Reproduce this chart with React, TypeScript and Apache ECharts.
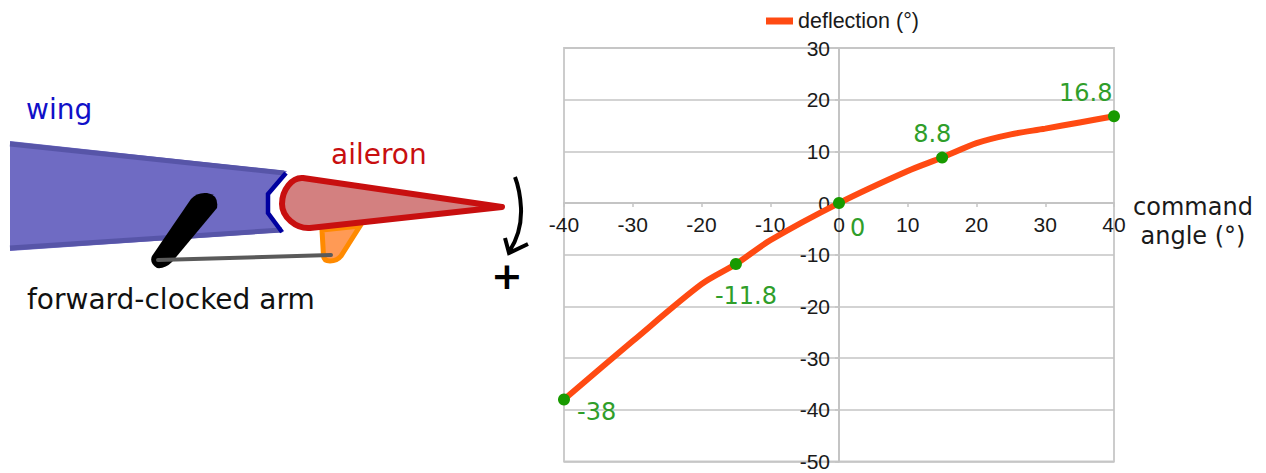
import React, { useEffect, useRef } from "react";
import * as echarts from "echarts";

const commandAngle = [-40, -15, 0, 15, 40];
const deflection = [-38, -11.8, 0, 8.8, 16.8];
const curveAngle = [-40, -30, -20, -15, -10, 0, 10, 15, 20, 25, 30, 35, 40];
const curveDeflection = [-38, -26.7, -15.7, -11.8, -7.2, 0, 6.2, 8.8, 11.6, 13.3, 14.4, 15.6, 16.8];
const seriesName = "deflection (°)";
const xAxisName = "command\nangle (°)";
const pointLabels = ["-38", "-11.8", "0", "8.8", "16.8"];

const labelOffsets = [
  [19, 7],
  [-15, 26],
  [17, 19],
  [-23, -30],
  [-49, -29],
];

const DIAGRAM = "DejaVu Sans";
const CHART = "Liberation Sans";

echarts.graphic.registerShape(
  "aileronShape",
  echarts.graphic.extendPath(
    "M303 178 L502 207 L310 228 C296 229 282 217 282 204 C282 190 292 177 303 178 Z",
    {}
  )
);
echarts.graphic.registerShape(
  "hornShape",
  echarts.graphic.extendPath(
    "M322 230 L360 226 L341 256 Q337 261 330 261 Q324 261 323.5 256 Z",
    {}
  )
);
echarts.graphic.registerShape(
  "armShape",
  echarts.graphic.extendPath(
    "M191 199 Q197 192 207 193 Q219 195 217 208 L172 262 Q165 269 157 268 Q149 263 152 256 Z",
    {}
  )
);
echarts.graphic.registerShape(
  "arrowShape",
  echarts.graphic.extendPath(
    "M515 177 Q520 190 521 208 Q522 232 509 252 M505 238 L509 253 L528 244",
    {}
  )
);

const diagram: any[] = [
  {
    type: "polygon",
    shape: { points: [[10, 141], [287, 171], [266, 195], [266, 213], [284, 232], [10, 251]] },
    style: { fill: "#6f6bc3" },
  },
  {
    type: "polyline",
    shape: { points: [[10, 144], [284, 173]] },
    style: { stroke: "#5755a8", lineWidth: 5, fill: "none" },
  },
  {
    type: "polyline",
    shape: { points: [[10, 248], [282, 230]] },
    style: { stroke: "#5755a8", lineWidth: 5, fill: "none" },
  },
  {
    type: "polyline",
    shape: { points: [[286, 173], [268, 194], [268, 213], [282, 232]] },
    style: { stroke: "#0000a0", lineWidth: 4.5, fill: "none" },
  },
  { type: "hornShape", x: 0, y: 0, style: { fill: "#ff9a55", stroke: "#ff8a00", lineWidth: 5 } },
  { type: "aileronShape", x: 0, y: 0, style: { fill: "#d38080", stroke: "#c80f0f", lineWidth: 6, lineJoin: "round" } },
  { type: "armShape", x: 0, y: 0, style: { fill: "#000000" } },
  {
    type: "line",
    shape: { x1: 158, y1: 260, x2: 331, y2: 255 },
    style: { stroke: "#5a5a5a", lineWidth: 4, lineCap: "round" },
  },
  { type: "arrowShape", x: 0, y: 0, style: { stroke: "#000000", fill: "none", lineWidth: 4 } },
  {
    type: "text",
    x: 26,
    y: 95,
    style: { text: "wing", fill: "#1010c8", font: `28px "${DIAGRAM}"` },
  },
  {
    type: "text",
    x: 331,
    y: 140,
    style: { text: "aileron", fill: "#c80f0f", font: `28px "${DIAGRAM}"` },
  },
  {
    type: "text",
    x: 27,
    y: 285,
    style: { text: "forward-clocked arm", fill: "#111111", font: `28px "${DIAGRAM}"` },
  },
  {
    type: "text",
    x: 491,
    y: 257,
    style: { text: "+", fill: "#000000", font: `bold 38px "${DIAGRAM}"` },
  },
  {
    type: "text",
    x: 1193,
    y: 221.5,
    style: {
      text: xAxisName,
      fill: "#1a1a1a",
      font: `24px "${DIAGRAM}"`,
      align: "center",
      verticalAlign: "middle",
      lineHeight: 29,
    },
  },
];

export default function App() {
  const ref = useRef<HTMLDivElement>(null);
  useEffect(() => {
    const chart = echarts.init(ref.current!, undefined, { renderer: "svg" });
    const points = commandAngle.map((x, i) => [x, deflection[i]]);
    const curve = curveAngle.map((x, i) => [x, curveDeflection[i]]);
    chart.setOption({
      animation: false,
      backgroundColor: "#ffffff",
      textStyle: { fontFamily: CHART },
      graphic: { elements: diagram },
      legend: {
        data: [seriesName],
        left: 761,
        top: 5,
        itemWidth: 27,
        itemHeight: 7,
        itemGap: 0,
        icon: "rect",
        textStyle: { fontFamily: CHART, fontSize: 21.5, color: "#1a1a1a" },
      },
      grid: {
        left: 564,
        right: 152,
        top: 48,
        bottom: 11.5,
        show: true,
        borderColor: "#cccccc",
        borderWidth: 2,
        outerBoundsMode: "none",
      },
      xAxis: {
        type: "value",
        position: "bottom",
        offset: -258.4,
        min: -40,
        max: 40,
        interval: 10,
        axisLine: { onZero: false, lineStyle: { color: "#c4c4c4", width: 2 } },
        axisTick: { show: true, length: 4, lineStyle: { color: "#c4c4c4", width: 1.5 } },
        axisLabel: { fontFamily: CHART, fontSize: 21, color: "#1a1a1a", margin: 11, hideOverlap: false },
        splitLine: { show: false },
      },
      yAxis: {
        type: "value",
        position: "left",
        offset: -275,
        min: -50,
        max: 30,
        interval: 10,
        axisLine: { onZero: false, lineStyle: { color: "#c4c4c4", width: 2 } },
        axisTick: { show: true, length: 4, lineStyle: { color: "#c4c4c4", width: 1.5 } },
        axisLabel: { fontFamily: CHART, fontSize: 21, color: "#1a1a1a", margin: 9, hideOverlap: false },
        splitLine: { show: true, lineStyle: { color: "#c4c4c4", width: 1.5 } },
      },
      series: [
        {
          name: seriesName,
          type: "line",
          data: curve,
          smooth: 0.3,
          showSymbol: false,
          lineStyle: { color: "#ff4a12", width: 6 },
          itemStyle: { color: "#ff4a12" },
          z: 3,
        },
        {
          name: "points",
          type: "scatter",
          symbol: "circle",
          symbolSize: 12,
          itemStyle: { color: "#189a00", opacity: 1 },
          z: 4,
          data: points.map((p, i) => ({
            value: p,
            label: {
              show: true,
              formatter: pointLabels[i],
              position: labelOffsets[i],
              fontFamily: DIAGRAM,
              fontSize: 24,
              color: "#2f9e2a",
            },
          })),
        },
      ],
    });
    return () => chart.dispose();
  }, []);
  return (
    <div
      ref={ref}
      style={{ position: "fixed", left: 0, top: 0, width: 1266, height: 473 }}
    />
  );
}
